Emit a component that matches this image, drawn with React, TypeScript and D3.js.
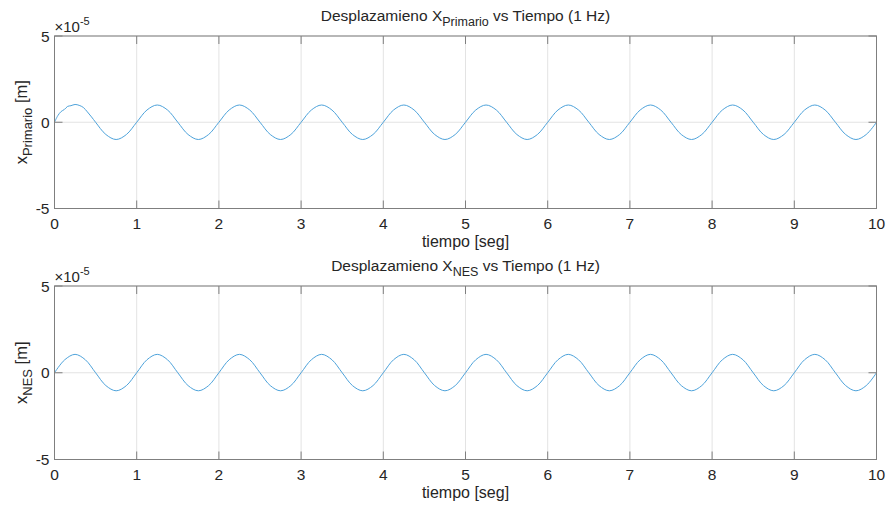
import React from "react";
import * as d3 from "d3";

// time (s) and displacement (x1e-5 m)
const timeTop: number[] = [
  0, 0.04, 0.08, 0.12, 0.16, 0.2, 0.25, 0.3, 0.35, 0.4, 0.45, 0.5,
  0.625, 0.75, 0.875, 1.0, 1.125, 1.25, 1.375, 1.5, 1.625, 1.75, 1.875, 2.0,
  2.125, 2.25, 2.375, 2.5, 2.625, 2.75, 2.875, 3.0, 3.125, 3.25, 3.375, 3.5,
  3.625, 3.75, 3.875, 4.0, 4.125, 4.25, 4.375, 4.5, 4.625, 4.75, 4.875, 5.0,
  5.125, 5.25, 5.375, 5.5, 5.625, 5.75, 5.875, 6.0, 6.125, 6.25, 6.375, 6.5,
  6.625, 6.75, 6.875, 7.0, 7.125, 7.25, 7.375, 7.5, 7.625, 7.75, 7.875, 8.0,
  8.125, 8.25, 8.375, 8.5, 8.625, 8.75, 8.875, 9.0, 9.125, 9.25, 9.375, 9.5,
  9.625, 9.75, 9.875, 10.0,
];
const xPrimario: number[] = [
  0, 0.38, 0.62, 0.74, 0.92, 0.96, 1.03, 0.98, 0.86, 0.6, 0.31, 0,
  -0.71, -1.0, -0.71, 0, 0.71, 1.0, 0.71, 0, -0.71, -1.0, -0.71, 0,
  0.71, 1.0, 0.71, 0, -0.71, -1.0, -0.71, 0, 0.71, 1.0, 0.71, 0,
  -0.71, -1.0, -0.71, 0, 0.71, 1.0, 0.71, 0, -0.71, -1.0, -0.71, 0,
  0.71, 1.0, 0.71, 0, -0.71, -1.0, -0.71, 0, 0.71, 1.0, 0.71, 0,
  -0.71, -1.0, -0.71, 0, 0.71, 1.0, 0.71, 0, -0.71, -1.0, -0.71, 0,
  0.71, 1.0, 0.71, 0, -0.71, -1.0, -0.71, 0, 0.71, 1.0, 0.71, 0,
  -0.71, -1.0, -0.71, 0,
];

const timeBottom: number[] = [
  0, 0.125, 0.25, 0.375, 0.5, 0.625, 0.75, 0.875, 1.0, 1.125, 1.25, 1.375, 1.5,
  1.625, 1.75, 1.875, 2.0, 2.125, 2.25, 2.375, 2.5, 2.625, 2.75, 2.875, 3.0,
  3.125, 3.25, 3.375, 3.5, 3.625, 3.75, 3.875, 4.0, 4.125, 4.25, 4.375, 4.5,
  4.625, 4.75, 4.875, 5.0, 5.125, 5.25, 5.375, 5.5, 5.625, 5.75, 5.875, 6.0,
  6.125, 6.25, 6.375, 6.5, 6.625, 6.75, 6.875, 7.0, 7.125, 7.25, 7.375, 7.5,
  7.625, 7.75, 7.875, 8.0, 8.125, 8.25, 8.375, 8.5, 8.625, 8.75, 8.875, 9.0,
  9.125, 9.25, 9.375, 9.5, 9.625, 9.75, 9.875, 10.0,
];
const xNES: number[] = [
  0, 0.75, 1.06, 0.75, 0, -0.74, -1.04, -0.74, 0, 0.75, 1.06, 0.75, 0,
  -0.74, -1.04, -0.74, 0, 0.75, 1.06, 0.75, 0, -0.74, -1.04, -0.74, 0,
  0.75, 1.06, 0.75, 0, -0.74, -1.04, -0.74, 0, 0.75, 1.06, 0.75, 0,
  -0.74, -1.04, -0.74, 0, 0.75, 1.06, 0.75, 0, -0.74, -1.04, -0.74, 0,
  0.75, 1.06, 0.75, 0, -0.74, -1.04, -0.74, 0, 0.75, 1.06, 0.75, 0,
  -0.74, -1.04, -0.74, 0, 0.75, 1.06, 0.75, 0, -0.74, -1.04, -0.74, 0,
  0.75, 1.06, 0.75, 0, -0.74, -1.04, -0.74, 0,
];

const xTicks: number[] = [0, 1, 2, 3, 4, 5, 6, 7, 8, 9, 10];
const yTicks: number[] = [-5, 0, 5];

const W = 890;
const H = 509;
const LEFT = 54.5;
const RIGHT = 876.5;
const FONT = "'Liberation Sans', Arial, Helvetica, sans-serif";
const TEXT = "#262626";
const AXIS = "#7f7f7f";
const GRID = "#e3e3e3";
const LINE = "#4ea3db";

interface PanelProps {
  top: number;
  bottom: number;
  xs: number[];
  ys: number[];
  sub: string;
}

function Panel({ top, bottom, xs, ys, sub }: PanelProps) {
  const x = d3.scaleLinear().domain([0, 10]).range([LEFT, RIGHT]);
  const y = d3.scaleLinear().domain([-5, 5]).range([bottom, top]);
  const line = d3
    .line<number>()
    .x((_, i) => x(xs[i]))
    .y((d) => y(d))
    .curve(d3.curveCatmullRom.alpha(0.5));
  const path = line(ys) || "";
  const tick = 8;
  const midX = (LEFT + RIGHT) / 2;
  return (
    <g>
      {xTicks.map((t) => (
        <line key={"gx" + t} x1={x(t)} x2={x(t)} y1={top} y2={bottom} stroke={GRID} strokeWidth={1} />
      ))}
      {yTicks.map((t) => (
        <line key={"gy" + t} x1={LEFT} x2={RIGHT} y1={y(t)} y2={y(t)} stroke={GRID} strokeWidth={1} />
      ))}
      <path d={path} fill="none" stroke={LINE} strokeWidth={1} />
      <rect x={LEFT} y={top} width={RIGHT - LEFT} height={bottom - top} fill="none" stroke={AXIS} strokeWidth={1} />
      {xTicks.map((t) => (
        <g key={"tx" + t}>
          <line x1={x(t)} x2={x(t)} y1={bottom} y2={bottom - tick} stroke={AXIS} />
          <line x1={x(t)} x2={x(t)} y1={top} y2={top + tick} stroke={AXIS} />
          <text x={x(t)} y={bottom + 20} textAnchor="middle" fontSize={15.5} fill={TEXT} fontFamily={FONT}>
            {t}
          </text>
        </g>
      ))}
      {yTicks.map((t) => (
        <g key={"ty" + t}>
          <line x1={LEFT} x2={LEFT + tick} y1={y(t)} y2={y(t)} stroke={AXIS} />
          <line x1={RIGHT} x2={RIGHT - tick} y1={y(t)} y2={y(t)} stroke={AXIS} />
          <text x={LEFT - 5} y={y(t) + 5.5} textAnchor="end" fontSize={15.5} fill={TEXT} fontFamily={FONT}>
            {t}
          </text>
        </g>
      ))}
      <text x={LEFT} y={top - 4} fontSize={15} fill={TEXT} fontFamily={FONT}>
        ×10
        <tspan fontSize={11} dy={-7}>-5</tspan>
      </text>
      <text x={midX} y={bottom + 38} textAnchor="middle" fontSize={16} fill={TEXT} fontFamily={FONT}>
        tiempo [seg]
      </text>
      <text
        transform={`translate(27,${(top + bottom) / 2}) rotate(-90)`}
        textAnchor="middle"
        fontSize={16.5}
        fill={TEXT}
        fontFamily={FONT}
      >
        x
        <tspan fontSize={13} dy={5}>{sub}</tspan>
        <tspan dy={-5}> [m]</tspan>
      </text>
      <text x={midX} y={top - 15} textAnchor="middle" fontSize={15.5} fill={TEXT} fontFamily={FONT}>
        Desplazamieno X
        <tspan fontSize={12.5} dy={5}>{sub}</tspan>
        <tspan dy={-5}> vs Tiempo (1 Hz)</tspan>
      </text>
    </g>
  );
}

export default function App() {
  return (
    <svg
      width={W}
      height={H}
      style={{ position: "absolute", left: 0, top: 0, background: "#ffffff" }}
    >
      <rect x={0} y={0} width={W} height={H} fill="#ffffff" />
      <Panel top={36} bottom={208.5} xs={timeTop} ys={xPrimario} sub="Primario" />
      <Panel top={286} bottom={459.5} xs={timeBottom} ys={xNES} sub="NES" />
    </svg>
  );
}
